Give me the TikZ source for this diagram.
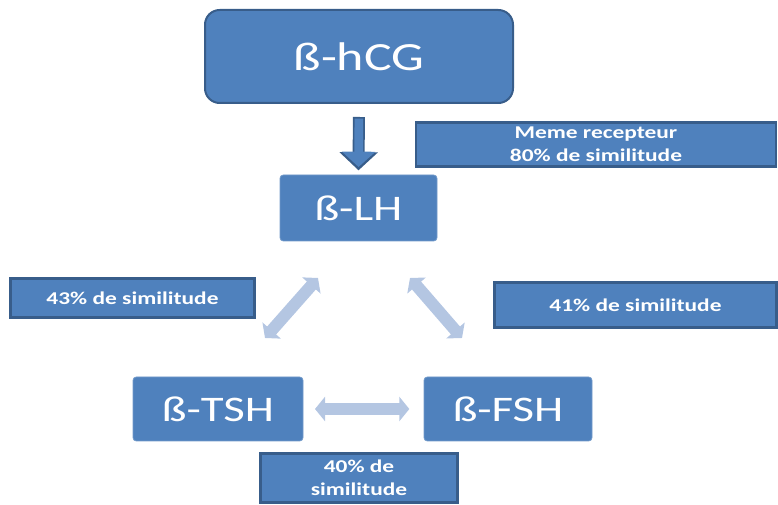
\documentclass[tikz,border=0pt]{standalone}
\usepackage{fontspec}
\setmainfont{Carlito}[FakeStretch=1.3]
\usetikzlibrary{arrows.meta, calc, positioning}
\definecolor{boxblue}{HTML}{4F81BD}
\definecolor{boxedge}{HTML}{385D8A}
\definecolor{paleblue}{HTML}{B4C6E2}

\begin{document}
\begin{tikzpicture}[x=0.75pt, y=-0.75pt,
		hormone/.style={fill=boxblue, draw=boxblue!80!white, line width=0.6pt, rounded corners=2.5pt, text=white, font=\fontsize{27}{30}\selectfont, inner sep=0pt, outer sep=0pt},
		bigbox/.style={hormone, draw=boxedge, line width=1.5pt, rounded corners=11pt, font=\fontsize{30}{33}\selectfont},
		infobox/.style={fill=boxblue, draw=boxedge, line width=2.2pt, text=white, align=center, font=\bfseries\fontsize{13.5}{17}\selectfont, inner sep=0pt, outer sep=0pt},
		pale arrow/.style={paleblue, line width=9pt, {Triangle[length=7.5pt, width=18pt]}-{Triangle[length=7.5pt, width=18pt]}}]
		\useasboundingbox (0,0) rectangle (778,505);
		
		% Hormones
		\node[bigbox, minimum width=231pt, minimum height=69.75pt] (hcg) at (359,56.5) {ß-hCG};
		\node[hormone, minimum width=117.75pt, minimum height=49.5pt] (lh) at (358.5,208) {ß-LH};
		\node[hormone, minimum width=127.5pt, minimum height=48pt] (tsh) at (218,409) {ß-TSH};
		\node[hormone, minimum width=126pt, minimum height=48pt] (fsh) at (508,409) {ß-FSH};
		
		% Similarity labels
		\node[infobox, minimum width=270pt, minimum height=33pt] (recept) at (596,144.5) {Meme recepteur\\80\% de similitude};
		\node[infobox, minimum width=183pt, minimum height=29.5pt] (lab43) at (132.5,298) {43\% de similitude};
		\node[infobox, minimum width=212pt, minimum height=34pt] (lab41) at (635.5,305) {41\% de similitude};
		\node[infobox, minimum width=148pt, minimum height=37pt] (lab40) at (359,478) {40\% de\\similitude};
		
		% Down arrow (hCG -> LH)
		\draw[boxedge, line width=9pt, shorten <=10.5pt, shorten >=3.5pt, -{Triangle[length=13.5pt, width=28pt]}] (hcg.south) -- (lh.north);
		\draw[boxblue, line width=6.5pt, shorten <=11.7pt, shorten >=6pt, -{Triangle[length=11.5pt, width=24.5pt]}] (hcg.south) -- (lh.north);
		
		% Double arrows between the beta subunits
		\draw[pale arrow] ($(lh.south west)+(38,37)$) -- ($(tsh.north east)+(-38,-39)$);
		\draw[pale arrow] ($(lh.south east)+(-27,37)$) -- ($(fsh.north west)+(38,-39)$);
		\draw[pale arrow, shorten <=9pt, shorten >=11pt] (tsh.east) -- (fsh.west);
	\end{tikzpicture}
\end{document}
